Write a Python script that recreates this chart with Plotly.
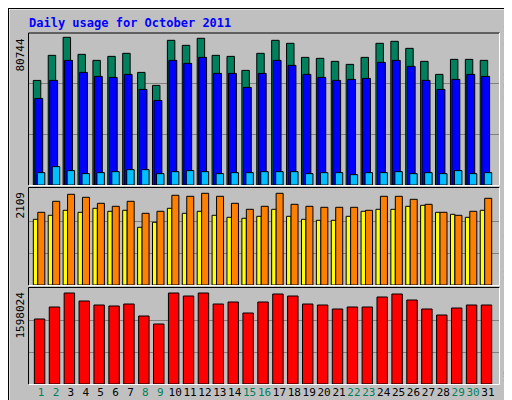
import plotly.graph_objects as go

days = list(range(1, 32))
weekends = [1, 2, 8, 9, 15, 16, 22, 23, 29, 30]

hits = [57180, 70880, 80744, 71430, 68140, 70330, 71980, 61560, 54440, 79100, 76360,
        80200, 70880, 70330, 62660, 71980, 79100, 77460, 69780, 69240, 67590, 65950,
        69780, 77460, 78550, 74710, 67590, 60470, 68690, 68690, 68140]
files = [47310, 57180, 68140, 61560, 59370, 58820, 60470, 52250, 46220, 68140, 66500,
         69780, 61010, 61010, 53340, 61010, 68140, 65400, 60470, 58820, 57180, 57730,
         58280, 67040, 68140, 64850, 57180, 52250, 57730, 60470, 59370]
pages = [6760, 10050, 7860, 6210, 6760, 7310, 8400, 8400, 6210, 7310, 7860, 7310,
         6210, 6760, 6760, 7310, 7310, 7310, 6210, 6760, 6760, 5660, 6760, 6760, 7310,
         6210, 6760, 6210, 7860, 6210, 6760]
visits = [1672, 1925, 2086, 2017, 1879, 1810, 1925, 1649, 1695, 2063, 2040, 2109, 2040,
          1879, 1741, 1810, 2109, 1856, 1810, 1787, 1787, 1787, 1718, 2040, 2040, 1971,
          1856, 1672, 1603, 1695, 1994]
sites = [1511, 1603, 1718, 1672, 1764, 1695, 1718, 1327, 1442, 1764, 1649, 1695, 1603,
         1557, 1534, 1580, 1741, 1580, 1511, 1488, 1488, 1580, 1695, 1741, 1741, 1810,
         1833, 1672, 1626, 1557, 1718]
kbytes = [1141460, 1352200, 1598024, 1457550, 1387300, 1369740, 1404870, 1194140,
          1053650, 1598024, 1545350, 1598024, 1404870, 1440000, 1246820, 1440000,
          1580470, 1545350, 1404870, 1387300, 1317060, 1352200, 1352200, 1527800,
          1580470, 1475110, 1317060, 1211700, 1334620, 1387300, 1387300]

MONO = "DejaVu Sans Mono"
BG = "#C0C0C0"
line = dict(color="black", width=1)

fig = go.Figure()


def bars(y, color, off, w, ya, xa):
    fig.add_trace(go.Bar(x=days, y=y, offset=off, width=w, marker_color=color,
                         marker_line=line, xaxis=xa, yaxis=ya, hoverinfo="y"))


bars(hits, "#00805C", -0.52, 0.50, "y", "x")
bars(files, "#0000FF", -0.42, 0.53, "y", "x")
bars(pages, "#00C0FF", -0.25, 0.50, "y", "x")
bars(sites, "#FFFF00", -0.52, 0.30, "y2", "x2")
bars(visits, "#FF8000", -0.22, 0.47, "y2", "x2")
bars(kbytes, "#FF0000", -0.45, 0.70, "y3", "x3")

xr = [0.17, 31.74]
ticktext = ['<span style="color:%s">%d</span>' % ("#00805C" if d in weekends else "black", d)
            for d in days]
top_max = max(hits) * 151.7 / 147.4
mid_max = max(visits) * 96 / 91.7
bot_max = max(kbytes) * 95 / 91

ax = dict(showgrid=True, gridcolor="#808080", gridwidth=1, zeroline=False,
          showticklabels=False, ticks="", fixedrange=True, automargin=False)
xdom = [20.7 / 512, 491 / 512]
xax = dict(range=xr, domain=xdom, showgrid=False, showticklabels=False,
           zeroline=False, automargin=False, fixedrange=True)
fig.update_layout(
    width=512, height=400, margin=dict(l=0, r=0, t=0, b=0, autoexpand=False),
    paper_bgcolor=BG, plot_bgcolor=BG, showlegend=False, barmode="overlay",
    xaxis=dict(xax, anchor="y"),
    xaxis2=dict(xax, anchor="y2"),
    xaxis3=dict(xax, anchor="y3", showticklabels=True, tickvals=days, ticktext=ticktext,
                ticks="", tickangle=0, tickfont=dict(family=MONO, size=11)),
    yaxis=dict(ax, range=[0, top_max], tickvals=[top_max / 3, top_max * 2 / 3],
               domain=[1 - 177 / 400, 1 - 25 / 400]),
    yaxis2=dict(ax, range=[0, mid_max], tickvals=[mid_max / 3, mid_max * 2 / 3],
                domain=[1 - 277 / 400, 1 - 181 / 400]),
    yaxis3=dict(ax, range=[0, bot_max], tickvals=[bot_max / 3, bot_max * 2 / 3],
                domain=[1 - 376 / 400, 1 - 281 / 400]),
)


# 3D-ish frames
def frame(x0, y0, x1, y1, dark="black", light="white"):
    fig.add_shape(type="line", xref="paper", yref="paper", x0=x0 / 512, x1=x1 / 512,
                  y0=1 - y0 / 400, y1=1 - y0 / 400, line=dict(color=dark, width=1))
    fig.add_shape(type="line", xref="paper", yref="paper", x0=x0 / 512, x1=x0 / 512,
                  y0=1 - y0 / 400, y1=1 - y1 / 400, line=dict(color=dark, width=1))
    fig.add_shape(type="line", xref="paper", yref="paper", x0=x0 / 512, x1=x1 / 512,
                  y0=1 - y1 / 400, y1=1 - y1 / 400, line=dict(color=light, width=1))
    fig.add_shape(type="line", xref="paper", yref="paper", x0=x1 / 512, x1=x1 / 512,
                  y0=1 - y0 / 400, y1=1 - y1 / 400, line=dict(color=light, width=1))


frame(20.5, 25, 491.5, 177.5)
frame(20.5, 179.5, 491.5, 277.5)
frame(20.5, 279.5, 491.5, 376.5)
frame(1, 1, 510, 398, dark="white", light="#808080")
fig.add_shape(type="rect", xref="paper", yref="paper", x0=0, x1=1, y0=0, y1=1,
              line=dict(color="black", width=2))

fig.add_annotation(text="<b>Daily usage for October 2011</b>", xref="paper", yref="paper",
                   x=19 / 512, y=1 - 15 / 400, xanchor="left", yanchor="middle",
                   showarrow=False, font=dict(family=MONO, size=12, color="#0000FF"))

for lab, ytop in [("80744", 29), ("2109", 182), ("1598024", 282)]:
    fig.add_annotation(text=lab, textangle=-90, xref="paper", yref="paper",
                       x=12 / 512, y=1 - ytop / 400, xanchor="center", yanchor="top",
                       showarrow=False, font=dict(family=MONO, size=11, color="black"))


def side(text, ybot):
    fig.add_annotation(text=text, textangle=-90, xref="paper", yref="paper",
                       x=500 / 512, y=1 - ybot / 400, xanchor="center", yanchor="bottom",
                       showarrow=False, font=dict(family=MONO, size=11))


side('<span style="color:#00C0FF">Pages</span> / <span style="color:#0000FF">Files</span>'
     ' / <span style="color:#00805C">Hits</span>', 137)
side('<span style="color:#FF8000">Sites</span> / <span style="color:#FFFF00">Visits</span>', 276)
side('<span style="color:#FF0000">KBytes</span>', 376)

fig.write_html("out.html")
